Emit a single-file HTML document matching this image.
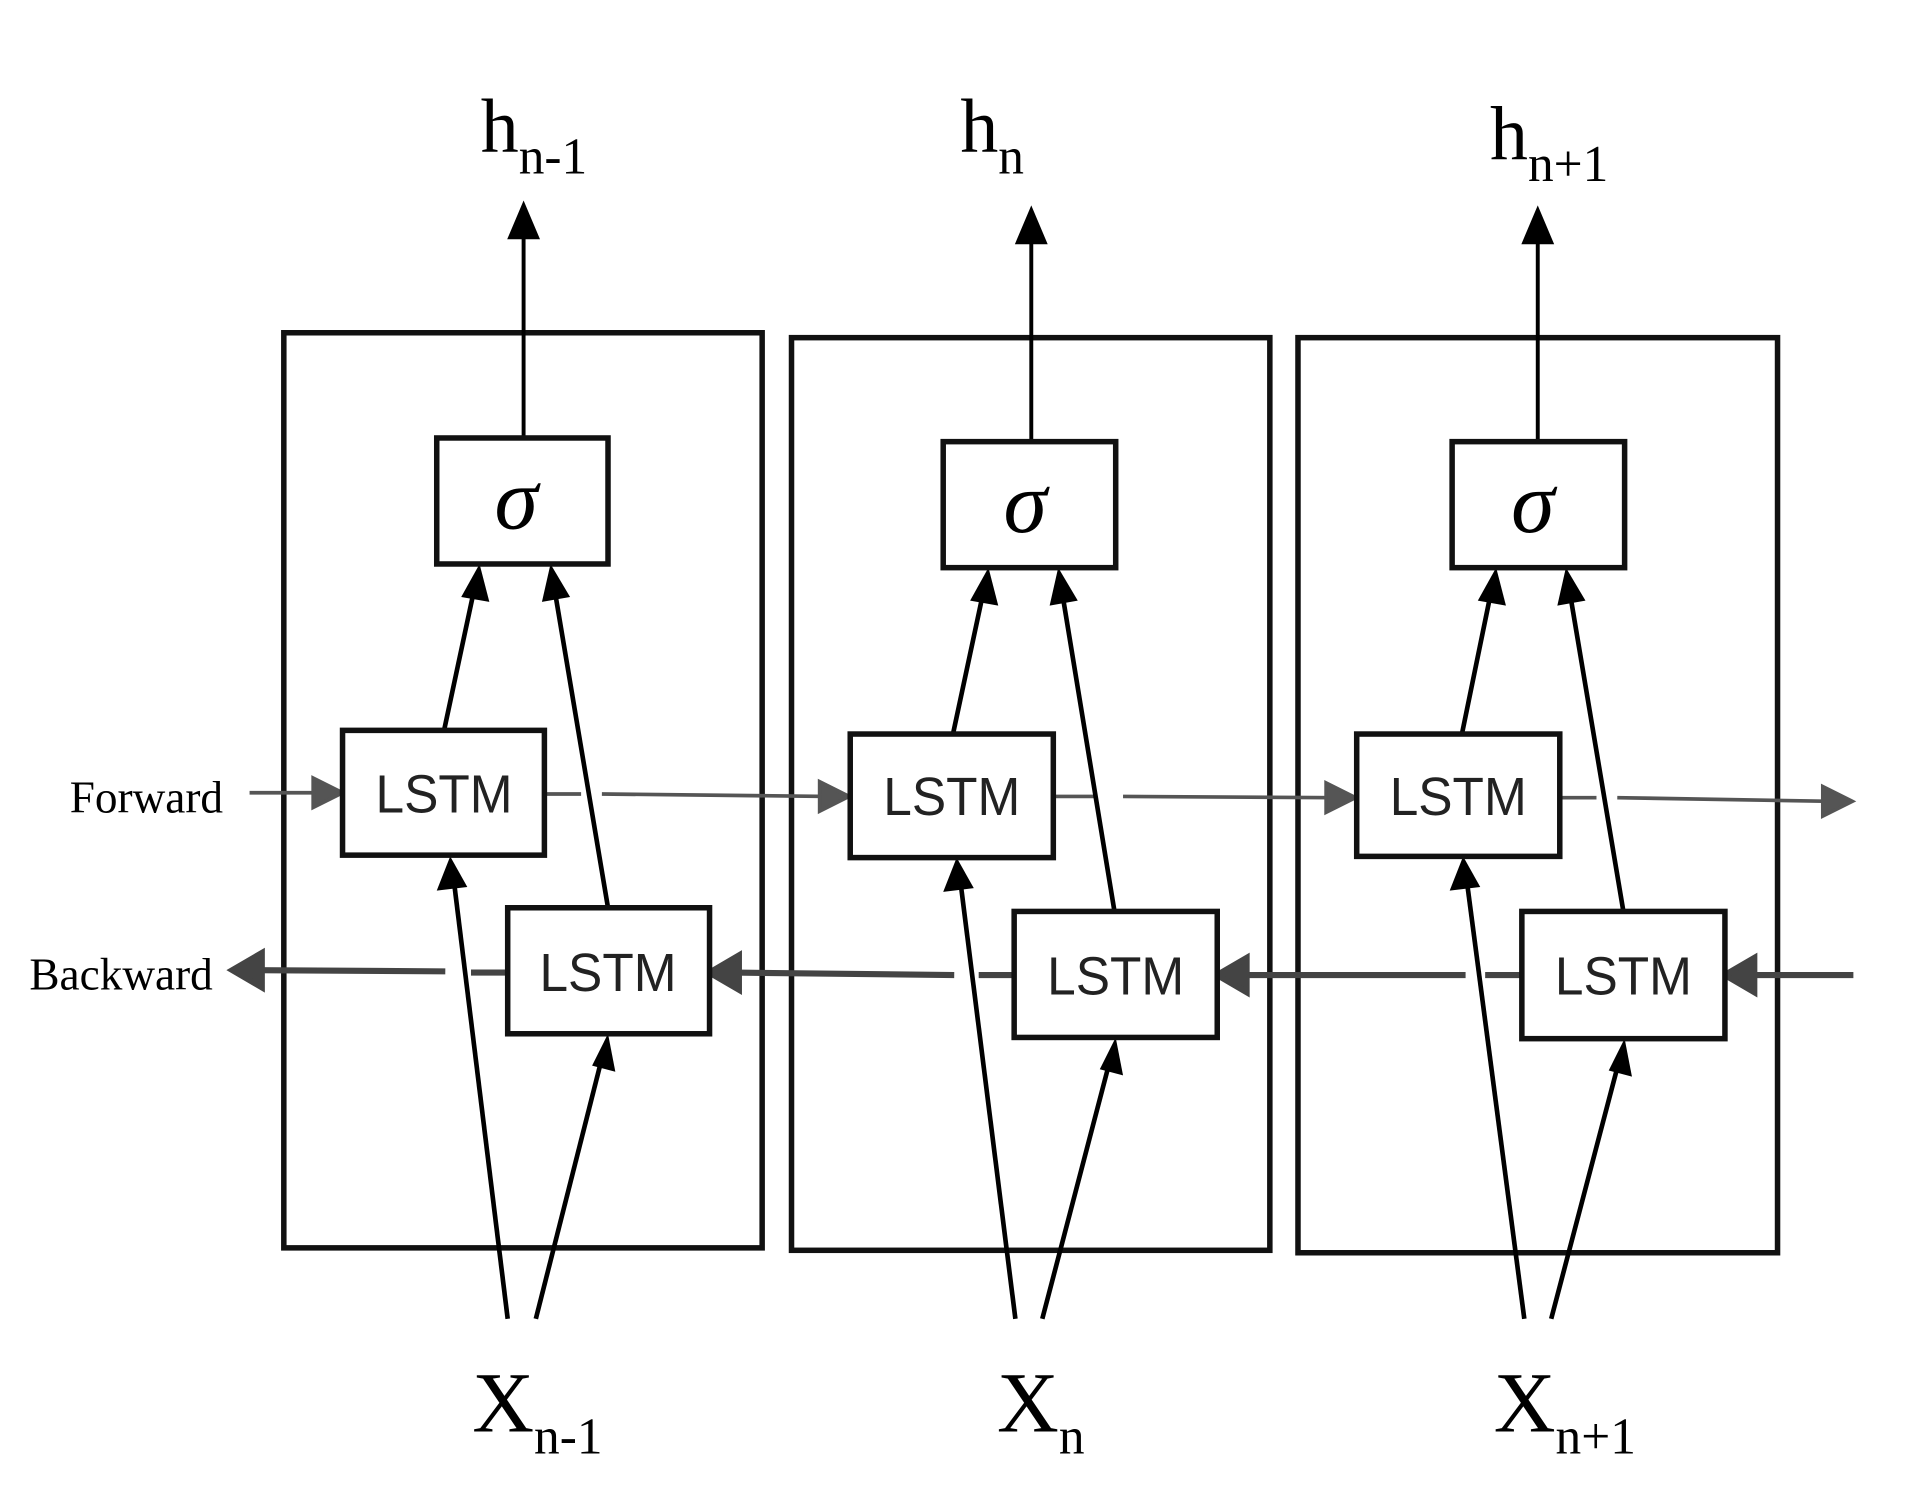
<!DOCTYPE html>
<html><head><meta charset="utf-8"><style>
html,body{margin:0;padding:0;background:#fff;}
svg{display:block;}
.s{font-family:"Liberation Serif",serif;}
.l{font-family:"Liberation Sans",sans-serif;font-size:44px;fill:#222;}
</style></head><body>
<svg width="1917" height="1506" viewBox="0 0 1567 1231" preserveAspectRatio="none" xmlns="http://www.w3.org/2000/svg">
<style>
.b{fill:none;stroke:#111;stroke-width:4.5;}
.bx{fill:#fff;stroke:#111;stroke-width:4.5;}
</style>
<rect class="b" x="232" y="272" width="391" height="748"/>
<rect class="b" x="647" y="276" width="391" height="746"/>
<rect class="b" x="1061" y="276" width="392" height="748"/>

<g stroke="#555" stroke-width="3" fill="#555">
<line x1="204" y1="648" x2="262" y2="648"/><polygon points="280,648 256,636 256,660"/>
<line x1="445" y1="649" x2="475" y2="649"/><line x1="492" y1="649" x2="676" y2="651"/><polygon points="694,651 670,639 670,663"/>
<line x1="861" y1="651" x2="895" y2="651"/><line x1="918" y1="651" x2="1090" y2="652"/><polygon points="1108,652 1084,640 1084,664"/>
<line x1="1275" y1="652" x2="1305" y2="652"/><line x1="1322" y1="652" x2="1496" y2="655"/><polygon points="1514,655 1490,643 1490,667"/>
</g>
<g stroke="#444" stroke-width="5" fill="#444">
<line x1="1515" y1="797" x2="1430" y2="797"/><polygon points="1410,797 1434,783 1434,811"/>
<line x1="1244" y1="797" x2="1214" y2="797"/><line x1="1198" y1="797" x2="1015" y2="797"/><polygon points="995,797 1019,783 1019,811"/>
<line x1="829" y1="797" x2="800" y2="797"/><line x1="780" y1="797" x2="600" y2="795"/><polygon points="580,795 604,781 604,809"/>
<line x1="415" y1="795" x2="385" y2="795"/><line x1="364" y1="794" x2="210" y2="793"/><polygon points="190,793 214,779 214,807"/>
</g>

<g stroke="#000" stroke-width="3.2" fill="#000">
<line x1="428" y1="358" x2="428" y2="190"/><polygon points="428,168 417,194 439,194"/>
<line x1="843" y1="361" x2="843" y2="194"/><polygon points="843,172 832,198 854,198"/>
<line x1="1257" y1="361" x2="1257" y2="194"/><polygon points="1257,172 1246,198 1268,198"/>
</g>
<g stroke="#000" stroke-width="3.8">
<line x1="415" y1="1078" x2="371" y2="720"/>
<line x1="438" y1="1078" x2="492" y2="865"/>
<line x1="363" y1="597" x2="388" y2="480"/>
<line x1="497" y1="742" x2="453" y2="480"/>
<line x1="830" y1="1078" x2="785" y2="720"/>
<line x1="852" y1="1078" x2="907" y2="868"/>
<line x1="779" y1="600" x2="804" y2="483"/>
<line x1="911" y1="745" x2="868" y2="483"/>
<line x1="1246" y1="1078" x2="1199" y2="720"/>
<line x1="1268" y1="1078" x2="1323" y2="869"/>
<line x1="1195" y1="600" x2="1219" y2="483"/>
<line x1="1327" y1="745" x2="1283" y2="483"/>
</g>
<g fill="#000">
<polygon points="368,700 357,728 382,725"/>
<polygon points="497,845 484,871 503,876"/>
<polygon points="392,461 377,488 400,492"/>
<polygon points="450,461 443,492 466,488"/>
<polygon points="782,701 771,729 796,726"/>
<polygon points="912,848 899,874 918,879"/>
<polygon points="808,464 793,491 816,495"/>
<polygon points="865,464 858,495 881,491"/>
<polygon points="1196,700 1185,728 1210,725"/>
<polygon points="1328,849 1315,875 1334,880"/>
<polygon points="1223,464 1208,491 1231,495"/>
<polygon points="1280,464 1273,495 1296,491"/>
</g>

<rect class="bx" x="357" y="358" width="140" height="103"/>
<rect class="bx" x="771" y="361" width="141" height="103"/>
<rect class="bx" x="1187" y="361" width="141" height="103"/>
<g class="s" font-size="72" font-style="italic" text-anchor="middle">
<text x="422" y="432">σ</text><text x="838" y="435">σ</text><text x="1253" y="435">σ</text>
</g>
<rect class="bx" x="280" y="597" width="165" height="102"/>
<rect class="bx" x="695" y="600" width="166" height="101"/>
<rect class="bx" x="1109" y="600" width="166" height="100"/>
<rect class="bx" x="415" y="742" width="165" height="103"/>
<rect class="bx" x="829" y="745" width="166" height="103"/>
<rect class="bx" x="1244" y="745" width="166" height="104"/>
<g class="l" text-anchor="middle">
<text x="363" y="664" textLength="112" lengthAdjust="spacingAndGlyphs">LSTM</text>
<text x="778" y="666" textLength="112" lengthAdjust="spacingAndGlyphs">LSTM</text>
<text x="1192" y="666" textLength="112" lengthAdjust="spacingAndGlyphs">LSTM</text>
<text x="497" y="810" textLength="112" lengthAdjust="spacingAndGlyphs">LSTM</text>
<text x="912" y="813" textLength="112" lengthAdjust="spacingAndGlyphs">LSTM</text>
<text x="1327" y="813" textLength="112" lengthAdjust="spacingAndGlyphs">LSTM</text>
</g>
<g class="s" font-size="37">
<text x="57" y="664">Forward</text>
<text x="24" y="809">Backward</text>
</g>
<g class="s" fill="#000">
<text x="393" y="124" font-size="62">h<tspan font-size="42" dy="18">n-1</tspan></text>
<text x="785" y="124" font-size="62">h<tspan font-size="42" dy="18">n</tspan></text>
<text x="1218" y="130" font-size="62">h<tspan font-size="42" dy="18">n+1</tspan></text>
</g>
<g class="s" fill="#000">
<text x="386" y="1170" font-size="70">X<tspan font-size="42" dy="18">n-1</tspan></text>
<text x="815" y="1170" font-size="70">X<tspan font-size="42" dy="18">n</tspan></text>
<text x="1221" y="1170" font-size="70">X<tspan font-size="42" dy="18">n+1</tspan></text>
</g>
</svg>
</body></html>
